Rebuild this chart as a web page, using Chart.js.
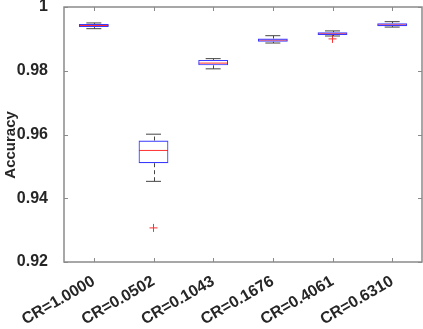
<!DOCTYPE html>
<html lang="en">
<head>
  <meta charset="UTF-8" />
  <title>Accuracy boxplot</title>
  <script src="https://cdn.jsdelivr.net/npm/chart.js"></script>
  <style>
    html, body { margin: 0; padding: 0; background: #fff; overflow: hidden; }
    canvas { display: block; }
  </style>
</head>
<body>
  <canvas id="boxChart" width="423" height="329"></canvas>

  <script>
    const categories = ['CR=1.0000', 'CR=0.0502', 'CR=0.1043', 'CR=0.1676', 'CR=0.4061', 'CR=0.6310'];
    const whiskerLow  = [0.9932, 0.9453, 0.9806, 0.9887, 0.9909, 0.9937];
    const q1          = [0.9937, 0.9510, 0.9817, 0.9891, 0.9912, 0.9940];
    const median      = [0.9942, 0.9550, 0.9824, 0.9896, 0.9916, 0.9944];
    const q3          = [0.9947, 0.9581, 0.9834, 0.9901, 0.9921, 0.9949];
    const whiskerHigh = [0.9950, 0.9601, 0.9838, 0.9910, 0.9925, 0.9954];
    const outliers    = [null, 0.9307, null, null, 0.9900, null];
    const yTicks      = [0.92, 0.94, 0.96, 0.98, 1];

    const textColor = '#262626';
    const axisColor = '#8a8a8a';
    const fontFamily = "'Liberation Sans', Arial, sans-serif";

    // dashed whiskers + inward ticks on a closed box (matlab look)
    const boxExtras = {
      id: 'boxExtras',
      afterDatasetsDraw(chart) {
        const { ctx, chartArea: a, scales: { x, y } } = chart;
        ctx.save();
        ctx.strokeStyle = '#444';
        ctx.lineWidth = 1;
        ctx.setLineDash([4, 3]);
        categories.forEach((c, i) => {
          const px = Math.round(x.getPixelForValue(i)) + 0.5;
          ctx.beginPath();
          ctx.moveTo(px, y.getPixelForValue(q3[i]));
          ctx.lineTo(px, y.getPixelForValue(whiskerHigh[i]));
          ctx.moveTo(px, y.getPixelForValue(q1[i]));
          ctx.lineTo(px, y.getPixelForValue(whiskerLow[i]));
          ctx.stroke();
        });
        ctx.setLineDash([]);

        ctx.strokeStyle = axisColor;
        ctx.lineWidth = 1.5;
        ctx.strokeRect(a.left, a.top, a.right - a.left, a.bottom - a.top);
        ctx.lineWidth = 1;
        ctx.beginPath();
        x.ticks.forEach((t, i) => {
          const px = Math.round(x.getPixelForTick(i)) + 0.5;
          ctx.moveTo(px, a.bottom); ctx.lineTo(px, a.bottom - 4);
          ctx.moveTo(px, a.top); ctx.lineTo(px, a.top + 4);
        });
        y.ticks.forEach((t, i) => {
          const py = Math.round(y.getPixelForTick(i)) + 0.5;
          ctx.moveTo(a.left, py); ctx.lineTo(a.left + 4, py);
          ctx.moveTo(a.right, py); ctx.lineTo(a.right - 4, py);
        });
        ctx.stroke();
        ctx.restore();
      }
    };

    new Chart(document.getElementById('boxChart'), {
      type: 'bar',
      data: {
        labels: categories,
        datasets: [
          {
            label: 'box',
            data: categories.map((c, i) => [q1[i], q3[i]]),
            backgroundColor: 'rgba(0,0,0,0)',
            borderColor: '#3a3aff',
            borderWidth: 1.1,
            borderSkipped: false,
            barPercentage: 0.5,
            categoryPercentage: 1,
            grouped: false
          },
          {
            type: 'line',
            label: 'median',
            data: median,
            showLine: false,
            pointStyle: 'line',
            pointRadius: 14.5,
            borderColor: '#ff3030',
            borderWidth: 1,
            clip: false
          },
          {
            type: 'line',
            label: 'upper cap',
            data: whiskerHigh,
            showLine: false,
            pointStyle: 'line',
            pointRadius: 7.5,
            borderColor: '#444',
            borderWidth: 1,
            clip: false
          },
          {
            type: 'line',
            label: 'lower cap',
            data: whiskerLow,
            showLine: false,
            pointStyle: 'line',
            pointRadius: 7.5,
            borderColor: '#444',
            borderWidth: 1,
            clip: false
          },
          {
            type: 'line',
            label: 'outliers',
            data: outliers,
            showLine: false,
            pointStyle: 'cross',
            pointRadius: 4,
            borderColor: '#ff3030',
            borderWidth: 1,
            clip: false
          }
        ]
      },
      options: {
        responsive: false,
        animation: false,
        events: [],
        layout: { autoPadding: false, padding: { top: 7, right: 1, left: 0, bottom: 0 } },
        plugins: {
          legend: { display: false },
          tooltip: { enabled: false }
        },
        scales: {
          x: {
            offset: true,
            grid: { display: false },
            border: { display: false },
            ticks: {
              color: textColor,
              font: { family: fontFamily, size: 16, weight: 'bold' },
              minRotation: 30,
              maxRotation: 30,
              padding: 2
            },
            afterFit(scale) {
              scale.height = 67;
              scale.paddingLeft = 0;
              scale.paddingRight = 0;
            }
          },
          y: {
            min: 0.92,
            max: 1,
            grid: { display: false },
            border: { display: false },
            afterBuildTicks(scale) { scale.ticks = yTicks.map(v => ({ value: v })); },
            ticks: {
              color: textColor,
              font: { family: fontFamily, size: 16, weight: 'bold' },
              padding: 8,
              callback: v => String(+v.toFixed(2))
            },
            title: {
              display: true,
              // trailing spaces nudge the label a bit below the axis centre, like the original
              text: 'Accuracy     ',
              color: textColor,
              font: { family: fontFamily, size: 15, weight: 'bold' },
              padding: { top: 2, bottom: 0 }
            },
            afterFit(scale) {
              scale.width = 64;
              scale.paddingTop = 0;
              scale.paddingBottom = 0;
            }
          }
        }
      },
      plugins: [boxExtras]
    });
  </script>
</body>
</html>
